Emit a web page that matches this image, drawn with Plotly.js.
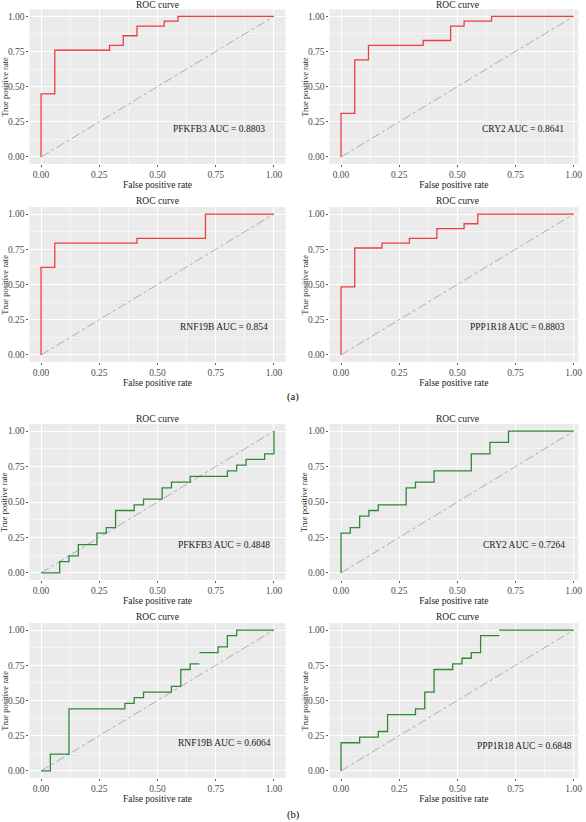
<!DOCTYPE html>
<html>
<head>
<meta charset="utf-8">
<script src="https://cdn.plot.ly/plotly-3.0.1.min.js"></script>
<style>html,body{margin:0;padding:0;background:#fff;}#chart{width:586px;height:822px;}</style>
</head>
<body>
<div id="chart"></div>
<script>
// ---------- data ----------
const genes = ['PFKFB3', 'CRY2', 'RNF19B', 'PPP1R18'];
const aucTrain = ['0.8803', '0.8641', '0.854', '0.8803'];
const aucValid = ['0.4848', '0.7264', '0.6064', '0.6848'];
const tickVals = [0, 0.25, 0.5, 0.75, 1];
const tickLabels = ['0.00', '0.25', '0.50', '0.75', '1.00'];
const minorVals = [0.125, 0.375, 0.625, 0.875];
const diagX = [0, 1];
const diagY = [0, 1];

// (a) training set ROC step vertices (horizontal-then-vertical)
const pfkfb3A_fpr = [0, 0, 0.059, 0.294, 0.353, 0.412, 0.529, 0.588, 1];
const pfkfb3A_tpr = [0, 0.448, 0.759, 0.793, 0.862, 0.931, 0.966, 1, 1];
const cry2A_fpr = [0, 0, 0.059, 0.118, 0.353, 0.471, 0.529, 0.647, 1];
const cry2A_tpr = [0, 0.310, 0.690, 0.793, 0.828, 0.931, 0.966, 1, 1];
const rnf19bA_fpr = [0, 0, 0.059, 0.412, 0.706, 1];
const rnf19bA_tpr = [0, 0.621, 0.793, 0.828, 1, 1];
const ppp1r18A_fpr = [0, 0, 0.059, 0.176, 0.294, 0.412, 0.529, 0.588, 1];
const ppp1r18A_tpr = [0, 0.483, 0.759, 0.793, 0.828, 0.897, 0.931, 1, 1];

// (b) validation set ROC step vertices
const pfkfb3B_fpr = [0, 0.08, 0.12, 0.16, 0.24, 0.28, 0.32, 0.40, 0.44, 0.52, 0.56, 0.64, 0.80, 0.84, 0.88, 0.96, 1.0];
const pfkfb3B_tpr = [0, 0.08, 0.12, 0.20, 0.28, 0.32, 0.44, 0.48, 0.52, 0.60, 0.64, 0.68, 0.72, 0.76, 0.80, 0.84, 1.0];
const cry2B_fpr = [0, 0, 0.04, 0.08, 0.12, 0.16, 0.28, 0.32, 0.40, 0.56, 0.64, 0.72, 1];
const cry2B_tpr = [0, 0.28, 0.32, 0.40, 0.44, 0.48, 0.60, 0.64, 0.72, 0.84, 0.92, 1, 1];
const rnf19bB_fpr = [0, 0.04, 0.12, 0.36, 0.40, 0.44, 0.56, 0.60, 0.64, 0.68, null, 0.68, 0.76, 0.80, 0.84, 1];
const rnf19bB_tpr = [0, 0.12, 0.44, 0.48, 0.52, 0.56, 0.60, 0.72, 0.76, 0.76, null, 0.84, 0.88, 0.96, 1, 1];
const ppp1r18B_fpr = [0, 0, 0.08, 0.16, 0.20, 0.32, 0.36, 0.40, 0.48, 0.52, 0.56, 0.60, 0.68, null, 0.68, 1];
const ppp1r18B_tpr = [0, 0.20, 0.24, 0.28, 0.40, 0.44, 0.56, 0.72, 0.76, 0.80, 0.84, 0.96, 0.96, null, 1, 1];

// ---------- styling / layout ----------
const FONT = 'Liberation Serif, Times New Roman, serif';
const RED = '#EC3F42';
const GREEN = '#2F8A33';
const W = 586, H = 822;

const panels = [
  {fpr: pfkfb3A_fpr, tpr: pfkfb3A_tpr, gene: genes[0], auc: aucTrain[0], color: RED, tx: 0.763, ty: 0.2},
  {fpr: cry2A_fpr, tpr: cry2A_tpr, gene: genes[1], auc: aucTrain[1], color: RED, tx: 0.782, ty: 0.2},
  {fpr: rnf19bA_fpr, tpr: rnf19bA_tpr, gene: genes[2], auc: aucTrain[2], color: RED, tx: 0.786, ty: 0.2},
  {fpr: ppp1r18A_fpr, tpr: ppp1r18A_tpr, gene: genes[3], auc: aucTrain[3], color: RED, tx: 0.760, ty: 0.2},
  {fpr: pfkfb3B_fpr, tpr: pfkfb3B_tpr, gene: genes[0], auc: aucValid[0], color: GREEN, tx: 0.785, ty: 0.2},
  {fpr: cry2B_fpr, tpr: cry2B_tpr, gene: genes[1], auc: aucValid[1], color: GREEN, tx: 0.787, ty: 0.2},
  {fpr: rnf19bB_fpr, tpr: rnf19bB_tpr, gene: genes[2], auc: aucValid[2], color: GREEN, tx: 0.787, ty: 0.2},
  {fpr: ppp1r18B_fpr, tpr: ppp1r18B_tpr, gene: genes[3], auc: aucValid[3], color: GREEN, tx: 0.788, ty: 0.18}
];

// pixel geometry of the grey panels
const colX = [[29.4, 285.6, [-0.05, 1.05]], [329.4, 578.3, [-0.05, 1.02]]];
const rowY = [[9.3, 164.0], [207.0, 362.0], [424.0, 580.0], [623.0, 778.0]];
const titleY = [5, 201, 419, 617];
const titleX = [157.5, 457.5];
const yTitleX = [4.2, 304.2];

const traces = [];
const layout = {
  width: W, height: H,
  margin: {l: 0, r: 0, t: 0, b: 0},
  paper_bgcolor: '#ffffff',
  plot_bgcolor: '#EBEBEB',
  showlegend: false,
  font: {family: FONT, size: 9, color: '#000'},
  annotations: []
};

panels.forEach((p, i) => {
  const n = i + 1;
  const row = Math.floor(i / 2), col = i % 2;
  const xa = 'x' + (n === 1 ? '' : n), ya = 'y' + (n === 1 ? '' : n);
  traces.push({
    x: diagX, y: diagY, xaxis: xa, yaxis: ya, mode: 'lines', hoverinfo: 'skip',
    line: {color: '#9C9C9C', width: 0.8, dash: 'dashdot'}
  });
  traces.push({
    x: p.fpr, y: p.tpr, xaxis: xa, yaxis: ya, mode: 'lines', connectgaps: false,
    line: {color: p.color, width: 1.3, shape: 'hv'}
  });
  const common = {
    tickmode: 'array', tickvals: tickVals, ticktext: tickLabels,
    showgrid: true, gridcolor: '#FFFFFF', gridwidth: 1,
    zeroline: false, showline: false,
    ticks: 'outside', ticklen: 2, tickwidth: 0.8, tickcolor: '#333333',
    tickfont: {family: FONT, size: 9.5, color: '#4D4D4D'},
    minor: {tickmode: 'array', tickvals: minorVals, showgrid: true, gridcolor: '#FFFFFF', gridwidth: 0.5, ticks: ''},
    fixedrange: true
  };
  layout['xaxis' + (n === 1 ? '' : n)] = Object.assign({}, common, {
    domain: [colX[col][0] / W, colX[col][1] / W],
    range: colX[col][2],
    anchor: ya,
    title: {text: 'False positive rate', font: {family: FONT, size: 9.5, color: '#1a1a1a'}, standoff: 0}
  });
  layout['yaxis' + (n === 1 ? '' : n)] = Object.assign({}, common, {
    domain: [1 - rowY[row][1] / H, 1 - rowY[row][0] / H],
    range: [-0.05, 1.05],
    anchor: xa,
    title: {text: ''}
  });
  // y-axis title placed as rotated text at the left edge of each panel
  layout.annotations.push({
    xref: 'paper', yref: ya + ' domain', x: yTitleX[col] / W, y: 0.5,
    xanchor: 'center', yanchor: 'middle', textangle: -90, showarrow: false,
    text: 'True positive rate', font: {family: FONT, size: 8.5, color: '#1a1a1a'}
  });
  layout.annotations.push({
    xref: 'paper', yref: 'paper', x: titleX[col] / W, y: 1 - titleY[row] / H,
    xanchor: 'center', yanchor: 'middle', showarrow: false,
    text: 'ROC curve', font: {family: FONT, size: 9.5, color: '#1a1a1a'}
  });
  layout.annotations.push({
    xref: xa, yref: ya, x: p.tx, y: p.ty, xanchor: 'center', yanchor: 'middle', showarrow: false,
    text: p.gene + ' AUC = ' + p.auc, font: {family: FONT, size: 9.5, color: '#1a1a1a'}
  });
});

layout.annotations.push({xref: 'paper', yref: 'paper', x: 293 / W, y: 1 - 397 / H, xanchor: 'center', yanchor: 'middle',
  showarrow: false, text: '(a)', font: {family: FONT, size: 10.5, color: '#000'}});
layout.annotations.push({xref: 'paper', yref: 'paper', x: 293 / W, y: 1 - 815 / H, xanchor: 'center', yanchor: 'middle',
  showarrow: false, text: '(b)', font: {family: FONT, size: 10.5, color: '#000'}});

Plotly.newPlot('chart', traces, layout, {staticPlot: true, displayModeBar: false});
</script>
</body>
</html>
